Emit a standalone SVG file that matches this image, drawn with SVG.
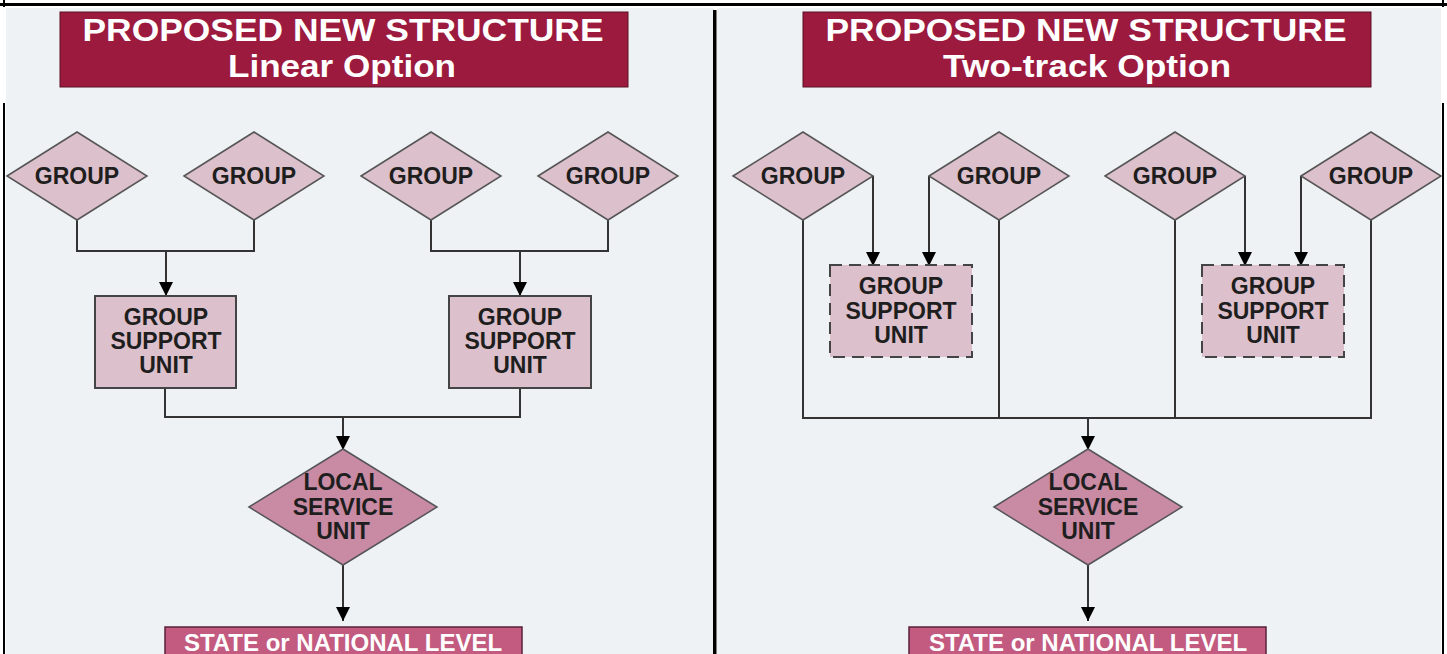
<svg xmlns="http://www.w3.org/2000/svg" width="1447" height="654" viewBox="0 0 1447 654">
<defs>
<marker id="ah" viewBox="0 0 14 14" refX="14" refY="7" markerWidth="14" markerHeight="14" markerUnits="userSpaceOnUse" orient="auto">
<path d="M0,0 L14,7 L0,14 Z" fill="#000"/>
</marker>
</defs>
<style>
.bg{fill:#eff2f4}
.title{fill:#9b1a3e;stroke:#5a1024;stroke-width:1}
.ttxt{font-family:"Liberation Sans",Arial,sans-serif;font-weight:bold;fill:#fff;font-size:32px;text-anchor:middle}
.grp{fill:#dcc0cb;stroke:#555;stroke-width:1.5}
.gsu{fill:#dcc0cb;stroke:#444;stroke-width:2}
.gsud{fill:#dcc0cb;stroke:#444;stroke-width:2;stroke-dasharray:12,7}
.lsu{fill:#c98aa3;stroke:#555;stroke-width:1.5}
.state{fill:#c35b80;stroke:#5a2038;stroke-width:1.5}
.ntxt{font-family:"Liberation Sans",Arial,sans-serif;font-weight:bold;fill:#1e1e1e;font-size:23px;text-anchor:middle}
.stxt{font-family:"Liberation Sans",Arial,sans-serif;font-weight:bold;fill:#fff;font-size:24px;text-anchor:middle}
.ln{fill:none;stroke:#333;stroke-width:2}
</style>
<rect x="0" y="0" width="1447" height="654" fill="#fff"/>
<rect class="bg" x="6" y="8" width="708" height="646"/>
<rect class="bg" x="717" y="8" width="724" height="646"/>
<g id="frame" fill="#000">
<rect x="0" y="3" width="1447" height="3"/>
<rect x="3" y="0" width="2" height="7"/>
<rect x="1442" y="0" width="2" height="7"/>
<rect x="3" y="103" width="2" height="551"/>
<rect x="1442" y="103" width="2" height="551"/>
<rect x="713" y="10" width="3.5" height="644"/>
</g>

<g id="title-left">
<rect class="title" x="60" y="12" width="568" height="75"/>
<text class="ttxt" x="343" y="41" textLength="521" lengthAdjust="spacingAndGlyphs">PROPOSED NEW STRUCTURE</text>
<text class="ttxt" x="342" y="77" textLength="228" lengthAdjust="spacingAndGlyphs">Linear Option</text>
</g>
<g id="title-right">
<rect class="title" x="803" y="12" width="568" height="75"/>
<text class="ttxt" x="1086" y="41" textLength="521" lengthAdjust="spacingAndGlyphs">PROPOSED NEW STRUCTURE</text>
<text class="ttxt" x="1087" y="77" textLength="288" lengthAdjust="spacingAndGlyphs">Two-track Option</text>
</g>

<g id="connectors">
<path class="ln" d="M77,220 V251 H254 V220"/>
<path class="ln" d="M166,251 V296" marker-end="url(#ah)"/>
<path class="ln" d="M431,220 V251 H608 V220"/>
<path class="ln" d="M520,251 V296" marker-end="url(#ah)"/>
<path class="ln" d="M165,388 V417 H520 V388"/>
<path class="ln" d="M343,417 V450" marker-end="url(#ah)"/>
<path class="ln" d="M343,565 V621" marker-end="url(#ah)"/>
<path class="ln" d="M873,176 V266" marker-end="url(#ah)"/>
<path class="ln" d="M929,176 V266" marker-end="url(#ah)"/>
<path class="ln" d="M1245,176 V266" marker-end="url(#ah)"/>
<path class="ln" d="M1301,176 V266" marker-end="url(#ah)"/>
<path class="ln" d="M803,220 V418 H1371 V220"/>
<path class="ln" d="M999,220 V418"/>
<path class="ln" d="M1175,220 V418"/>
<path class="ln" d="M1088,418 V450" marker-end="url(#ah)"/>
<path class="ln" d="M1088,565 V621" marker-end="url(#ah)"/>
</g>

<g id="L-group1"><polygon class="grp" points="7,176 77,132 147,176 77,220"/><text class="ntxt" x="77" y="184">GROUP</text></g>
<g id="L-group2"><polygon class="grp" points="184,176 254,132 324,176 254,220"/><text class="ntxt" x="254" y="184">GROUP</text></g>
<g id="L-group3"><polygon class="grp" points="361,176 431,132 501,176 431,220"/><text class="ntxt" x="431" y="184">GROUP</text></g>
<g id="L-group4"><polygon class="grp" points="538,176 608,132 678,176 608,220"/><text class="ntxt" x="608" y="184">GROUP</text></g>

<g id="L-gsu1"><rect class="gsu" x="95" y="296" width="141" height="92"/>
<text class="ntxt" x="166" y="325">GROUP</text><text class="ntxt" x="166" y="349">SUPPORT</text><text class="ntxt" x="166" y="373">UNIT</text></g>
<g id="L-gsu2"><rect class="gsu" x="449" y="296" width="142" height="92"/>
<text class="ntxt" x="520" y="325">GROUP</text><text class="ntxt" x="520" y="349">SUPPORT</text><text class="ntxt" x="520" y="373">UNIT</text></g>

<g id="L-lsu"><polygon class="lsu" points="249,507 343,449 437,507 343,565"/>
<text class="ntxt" x="343" y="490">LOCAL</text><text class="ntxt" x="343" y="515">SERVICE</text><text class="ntxt" x="343" y="539">UNIT</text></g>

<g id="L-state"><rect class="state" x="165" y="627" width="357" height="40"/>
<text class="stxt" x="343" y="651">STATE or NATIONAL LEVEL</text></g>

<g id="R-group1"><polygon class="grp" points="733,176 803,132 873,176 803,220"/><text class="ntxt" x="803" y="184">GROUP</text></g>
<g id="R-group2"><polygon class="grp" points="929,176 999,132 1069,176 999,220"/><text class="ntxt" x="999" y="184">GROUP</text></g>
<g id="R-group3"><polygon class="grp" points="1105,176 1175,132 1245,176 1175,220"/><text class="ntxt" x="1175" y="184">GROUP</text></g>
<g id="R-group4"><polygon class="grp" points="1301,176 1371,132 1441,176 1371,220"/><text class="ntxt" x="1371" y="184">GROUP</text></g>

<g id="R-gsu1"><rect class="gsud" x="830" y="265" width="142" height="92"/>
<text class="ntxt" x="901" y="294">GROUP</text><text class="ntxt" x="901" y="319">SUPPORT</text><text class="ntxt" x="901" y="343">UNIT</text></g>
<g id="R-gsu2"><rect class="gsud" x="1202" y="265" width="142" height="92"/>
<text class="ntxt" x="1273" y="294">GROUP</text><text class="ntxt" x="1273" y="319">SUPPORT</text><text class="ntxt" x="1273" y="343">UNIT</text></g>

<g id="R-lsu"><polygon class="lsu" points="994,507 1088,449 1182,507 1088,565"/>
<text class="ntxt" x="1088" y="490">LOCAL</text><text class="ntxt" x="1088" y="515">SERVICE</text><text class="ntxt" x="1088" y="539">UNIT</text></g>

<g id="R-state"><rect class="state" x="909" y="627" width="357" height="40"/>
<text class="stxt" x="1088" y="651">STATE or NATIONAL LEVEL</text></g>
</svg>
